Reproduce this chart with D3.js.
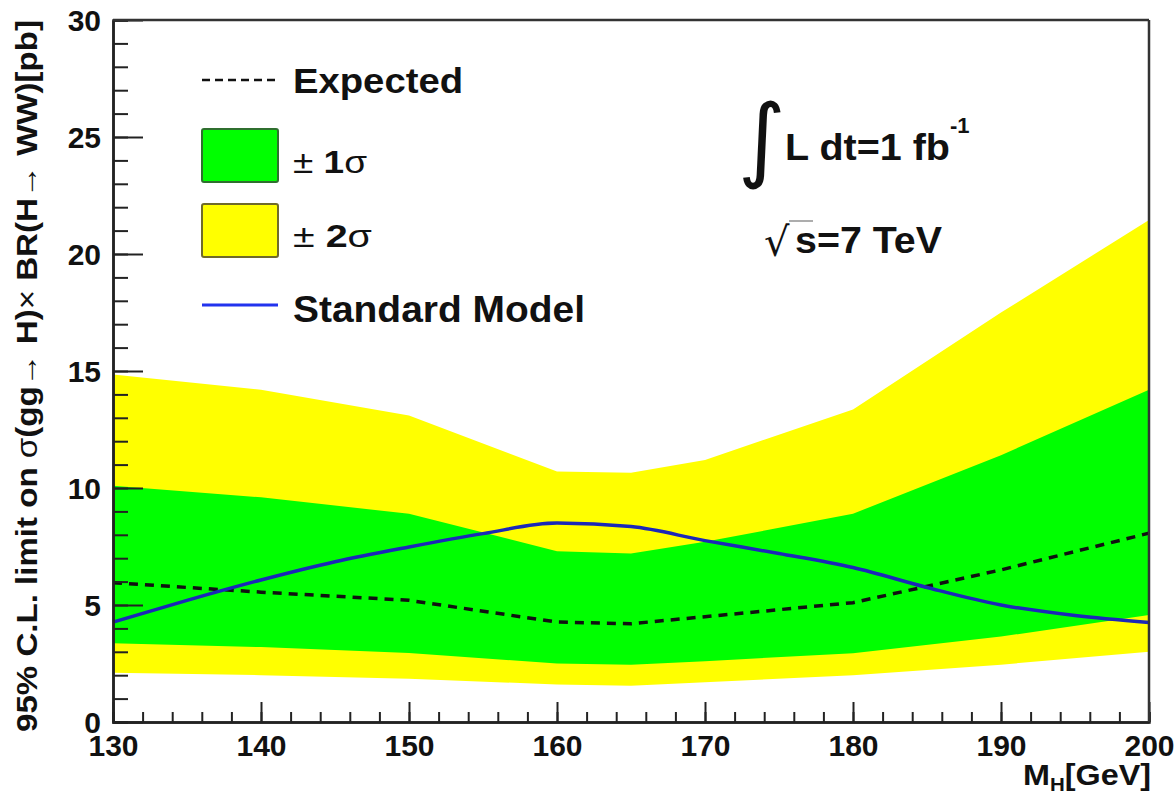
<!DOCTYPE html>
<html>
<head>
<meta charset="utf-8">
<script src="https://cdn.jsdelivr.net/npm/d3@7"></script>
<style>
  html, body { margin: 0; padding: 0; background: #fff; }
  svg { display: block; }
  text { font-family: "Liberation Sans", Arial, Helvetica, sans-serif; }
</style>
</head>
<body>
<svg id="chart" width="1174" height="797"></svg>
<script>
// ---------- data ----------
const masses      = [130, 140, 150, 160, 165, 170, 180, 190, 200];
const band2Upper  = [14.85, 14.2, 13.1, 10.7, 10.65, 11.2, 13.35, 17.5, 21.45];
const band1Upper  = [10.1, 9.6, 8.9, 7.3, 7.2, 7.7, 8.9, 11.4, 14.2];
const expected    = [5.95, 5.55, 5.2, 4.27, 4.2, 4.5, 5.1, 6.5, 8.07];
const band1Lower  = [3.37, 3.2, 2.95, 2.5, 2.45, 2.6, 2.94, 3.65, 4.57];
const band2Lower  = [2.1, 2.0, 1.85, 1.6, 1.55, 1.7, 2.0, 2.45, 3.0];

const smMasses    = [130, 135, 140, 145, 150, 155, 160, 165, 170, 175, 180, 185, 190, 195, 200];
const smValues    = [4.27, 5.2, 6.07, 6.85, 7.48, 8.05, 8.5, 8.35, 7.75, 7.2, 6.6, 5.75, 5.0, 4.55, 4.25];

const xMajorTicks = [130, 140, 150, 160, 170, 180, 190, 200];
const yMajorTicks = [0, 5, 10, 15, 20, 25, 30];

// ---------- layout ----------
const svg = d3.select("#chart");
const pLeft = 113, pRight = 1149, pTop = 20, pBottom = 722;

const x = d3.scaleLinear().domain([130, 200]).range([pLeft, pRight]);
const y = d3.scaleLinear().domain([0, 30]).range([pBottom, pTop]);

const rows = masses.map((m, i) => ({
  m, y2u: band2Upper[i], y1u: band1Upper[i], e: expected[i], y1l: band1Lower[i], y2l: band2Lower[i]
}));
const smRows = smMasses.map((m, i) => ({ m, v: smValues[i] }));

// bands
svg.append("path").datum(rows)
  .attr("fill", "#ffff00")
  .attr("d", d3.area().x(d => x(d.m)).y0(d => y(d.y2l)).y1(d => y(d.y2u)));
svg.append("path").datum(rows)
  .attr("fill", "#00ff00")
  .attr("d", d3.area().x(d => x(d.m)).y0(d => y(d.y1l)).y1(d => y(d.y1u)));

// expected
svg.append("path").datum(rows)
  .attr("fill", "none").attr("stroke", "#111").attr("stroke-width", 3.5)
  .attr("stroke-dasharray", "9,7")
  .attr("d", d3.line().x(d => x(d.m)).y(d => y(d.e)));

// SM
svg.append("path").datum(smRows)
  .attr("fill", "none").attr("stroke", "#1b28b8").attr("stroke-width", 3.5)
  .attr("d", d3.line().curve(d3.curveMonotoneX).x(d => x(d.m)).y(d => y(d.v)));

// ---------- axes ----------
const axisColor = "#222";
const tickFont = "bold 30px 'Liberation Sans', Arial, sans-serif";

const yMinor = svg.append("g").attr("transform", `translate(${pLeft},0)`)
  .call(d3.axisLeft(y).ticks(30).tickSize(-15).tickFormat(""));
const yAx = svg.append("g").attr("transform", `translate(${pLeft},0)`)
  .call(d3.axisLeft(y).tickValues(yMajorTicks).tickSizeInner(-30).tickSizeOuter(0).tickPadding(12).tickFormat(d3.format("d")));
const xMinor = svg.append("g").attr("transform", `translate(0,${pBottom})`)
  .call(d3.axisBottom(x).ticks(35).tickSize(-10).tickFormat(""));
const xAx = svg.append("g").attr("transform", `translate(0,${pBottom})`)
  .call(d3.axisBottom(x).tickValues(xMajorTicks).tickSizeInner(-20).tickSizeOuter(0).tickPadding(11).tickFormat(d3.format("d")));

[yMinor, yAx, xMinor, xAx].forEach(g => {
  g.selectAll("line").attr("stroke", axisColor).attr("stroke-width", 2);
  g.select(".domain").attr("stroke", axisColor).attr("stroke-width", 2.5);
  g.selectAll("text").style("font", tickFont).attr("fill", "#111");
});
yAx.selectAll("text").attr("dy", "0.36em");
xAx.selectAll("text").attr("dy", "0.78em");

// frame top/right
svg.append("line").attr("x1", pLeft).attr("x2", pRight).attr("y1", pTop).attr("y2", pTop)
  .attr("stroke", "#333").attr("stroke-width", 2.5);
svg.append("line").attr("x1", pRight).attr("x2", pRight).attr("y1", pTop).attr("y2", pBottom)
  .attr("stroke", "#333").attr("stroke-width", 2.5);

// ---------- axis titles ----------
const yTitle = svg.append("text")
  .attr("transform", "translate(37,376) rotate(-90)")
  .attr("text-anchor", "middle")
  .attr("textLength", 712).attr("lengthAdjust", "spacingAndGlyphs")
  .style("font-size", "29px").style("font-weight", "bold").attr("fill", "#111");
[["95% C.L. limit on ", true], ["σ", false], ["(gg", true], ["→", false], [" H)", true], ["×", false],
 [" BR(H", true], ["→", false], [" WW)[pb]", true]].forEach(([t, b]) => {
  yTitle.append("tspan").text(t).style("font-weight", b ? "bold" : "normal");
});

const xTitle = svg.append("text")
  .attr("x", 1151).attr("y", 785).attr("text-anchor", "end")
  .attr("textLength", 128).attr("lengthAdjust", "spacingAndGlyphs")
  .style("font-size", "30px").style("font-weight", "bold").attr("fill", "#111");
xTitle.append("tspan").text("M");
xTitle.append("tspan").text("H").style("font-size", "19px").attr("dy", 6);
xTitle.append("tspan").text("[GeV]").attr("dy", -6);

// ---------- legend ----------
const lx0 = 202, lx1 = 278, ltx = 293;
svg.append("line").attr("x1", lx0).attr("x2", lx1).attr("y1", 80).attr("y2", 80)
  .attr("stroke", "#111").attr("stroke-width", 2.5).attr("stroke-dasharray", "8,5");
svg.append("text").attr("x", ltx).attr("y", 93).text("Expected")
  .attr("textLength", 170).attr("lengthAdjust", "spacingAndGlyphs")
  .style("font-size", "35px").style("font-weight", "bold").attr("fill", "#111");

svg.append("rect").attr("x", lx0).attr("y", 129).attr("width", lx1 - lx0).attr("height", 53)
  .attr("rx", 2).attr("fill", "#00ff00").attr("stroke", "#2f6f2f").attr("stroke-width", 2);
const t1 = svg.append("text").attr("x", ltx).attr("y", 173)
  .attr("textLength", 74).attr("lengthAdjust", "spacingAndGlyphs")
  .style("font-size", "31px").attr("fill", "#111");
t1.append("tspan").text("± ");
t1.append("tspan").text("1").style("font-weight", "bold");
t1.append("tspan").text("σ");

svg.append("rect").attr("x", lx0).attr("y", 204).attr("width", lx1 - lx0).attr("height", 53)
  .attr("rx", 2).attr("fill", "#ffff00").attr("stroke", "#6f6a2a").attr("stroke-width", 2);
const t2 = svg.append("text").attr("x", ltx).attr("y", 247)
  .attr("textLength", 79).attr("lengthAdjust", "spacingAndGlyphs")
  .style("font-size", "31px").attr("fill", "#111");
t2.append("tspan").text("± ");
t2.append("tspan").text("2").style("font-weight", "bold");
t2.append("tspan").text("σ");

svg.append("line").attr("x1", lx0).attr("x2", lx1).attr("y1", 305).attr("y2", 305)
  .attr("stroke", "#2233ee").attr("stroke-width", 3);
svg.append("text").attr("x", ltx).attr("y", 322).text("Standard Model")
  .attr("textLength", 292).attr("lengthAdjust", "spacingAndGlyphs")
  .style("font-size", "36px").style("font-weight", "bold").attr("fill", "#111");

// ---------- annotations ----------
svg.append("text").attr("x", 738).attr("y", 170).text("∫")
  .style("font-family", "'DejaVu Sans', sans-serif")
  .style("font-size", "92px").attr("fill", "#111");
const lum = svg.append("text").attr("x", 785).attr("y", 160)
  .style("font-size", "37px").style("font-weight", "bold").attr("fill", "#111");
lum.append("tspan").text("L dt=1 fb").attr("textLength", 165).attr("lengthAdjust", "spacingAndGlyphs");
lum.append("tspan").text("-1").style("font-size", "22px").attr("dy", -27);

svg.append("text").attr("x", 764).attr("y", 256).text("√")
  .style("font-family", "'DejaVu Sans', sans-serif").style("font-size", "40px").attr("fill", "#111");
svg.append("line").attr("x1", 789).attr("x2", 813).attr("y1", 221).attr("y2", 221)
  .attr("stroke", "#777").attr("stroke-width", 1.2);
svg.append("text").attr("x", 795).attr("y", 253).text("s=7 TeV")
  .attr("textLength", 147).attr("lengthAdjust", "spacingAndGlyphs")
  .style("font-size", "36px").style("font-weight", "bold").attr("fill", "#111");
</script>
</body>
</html>
